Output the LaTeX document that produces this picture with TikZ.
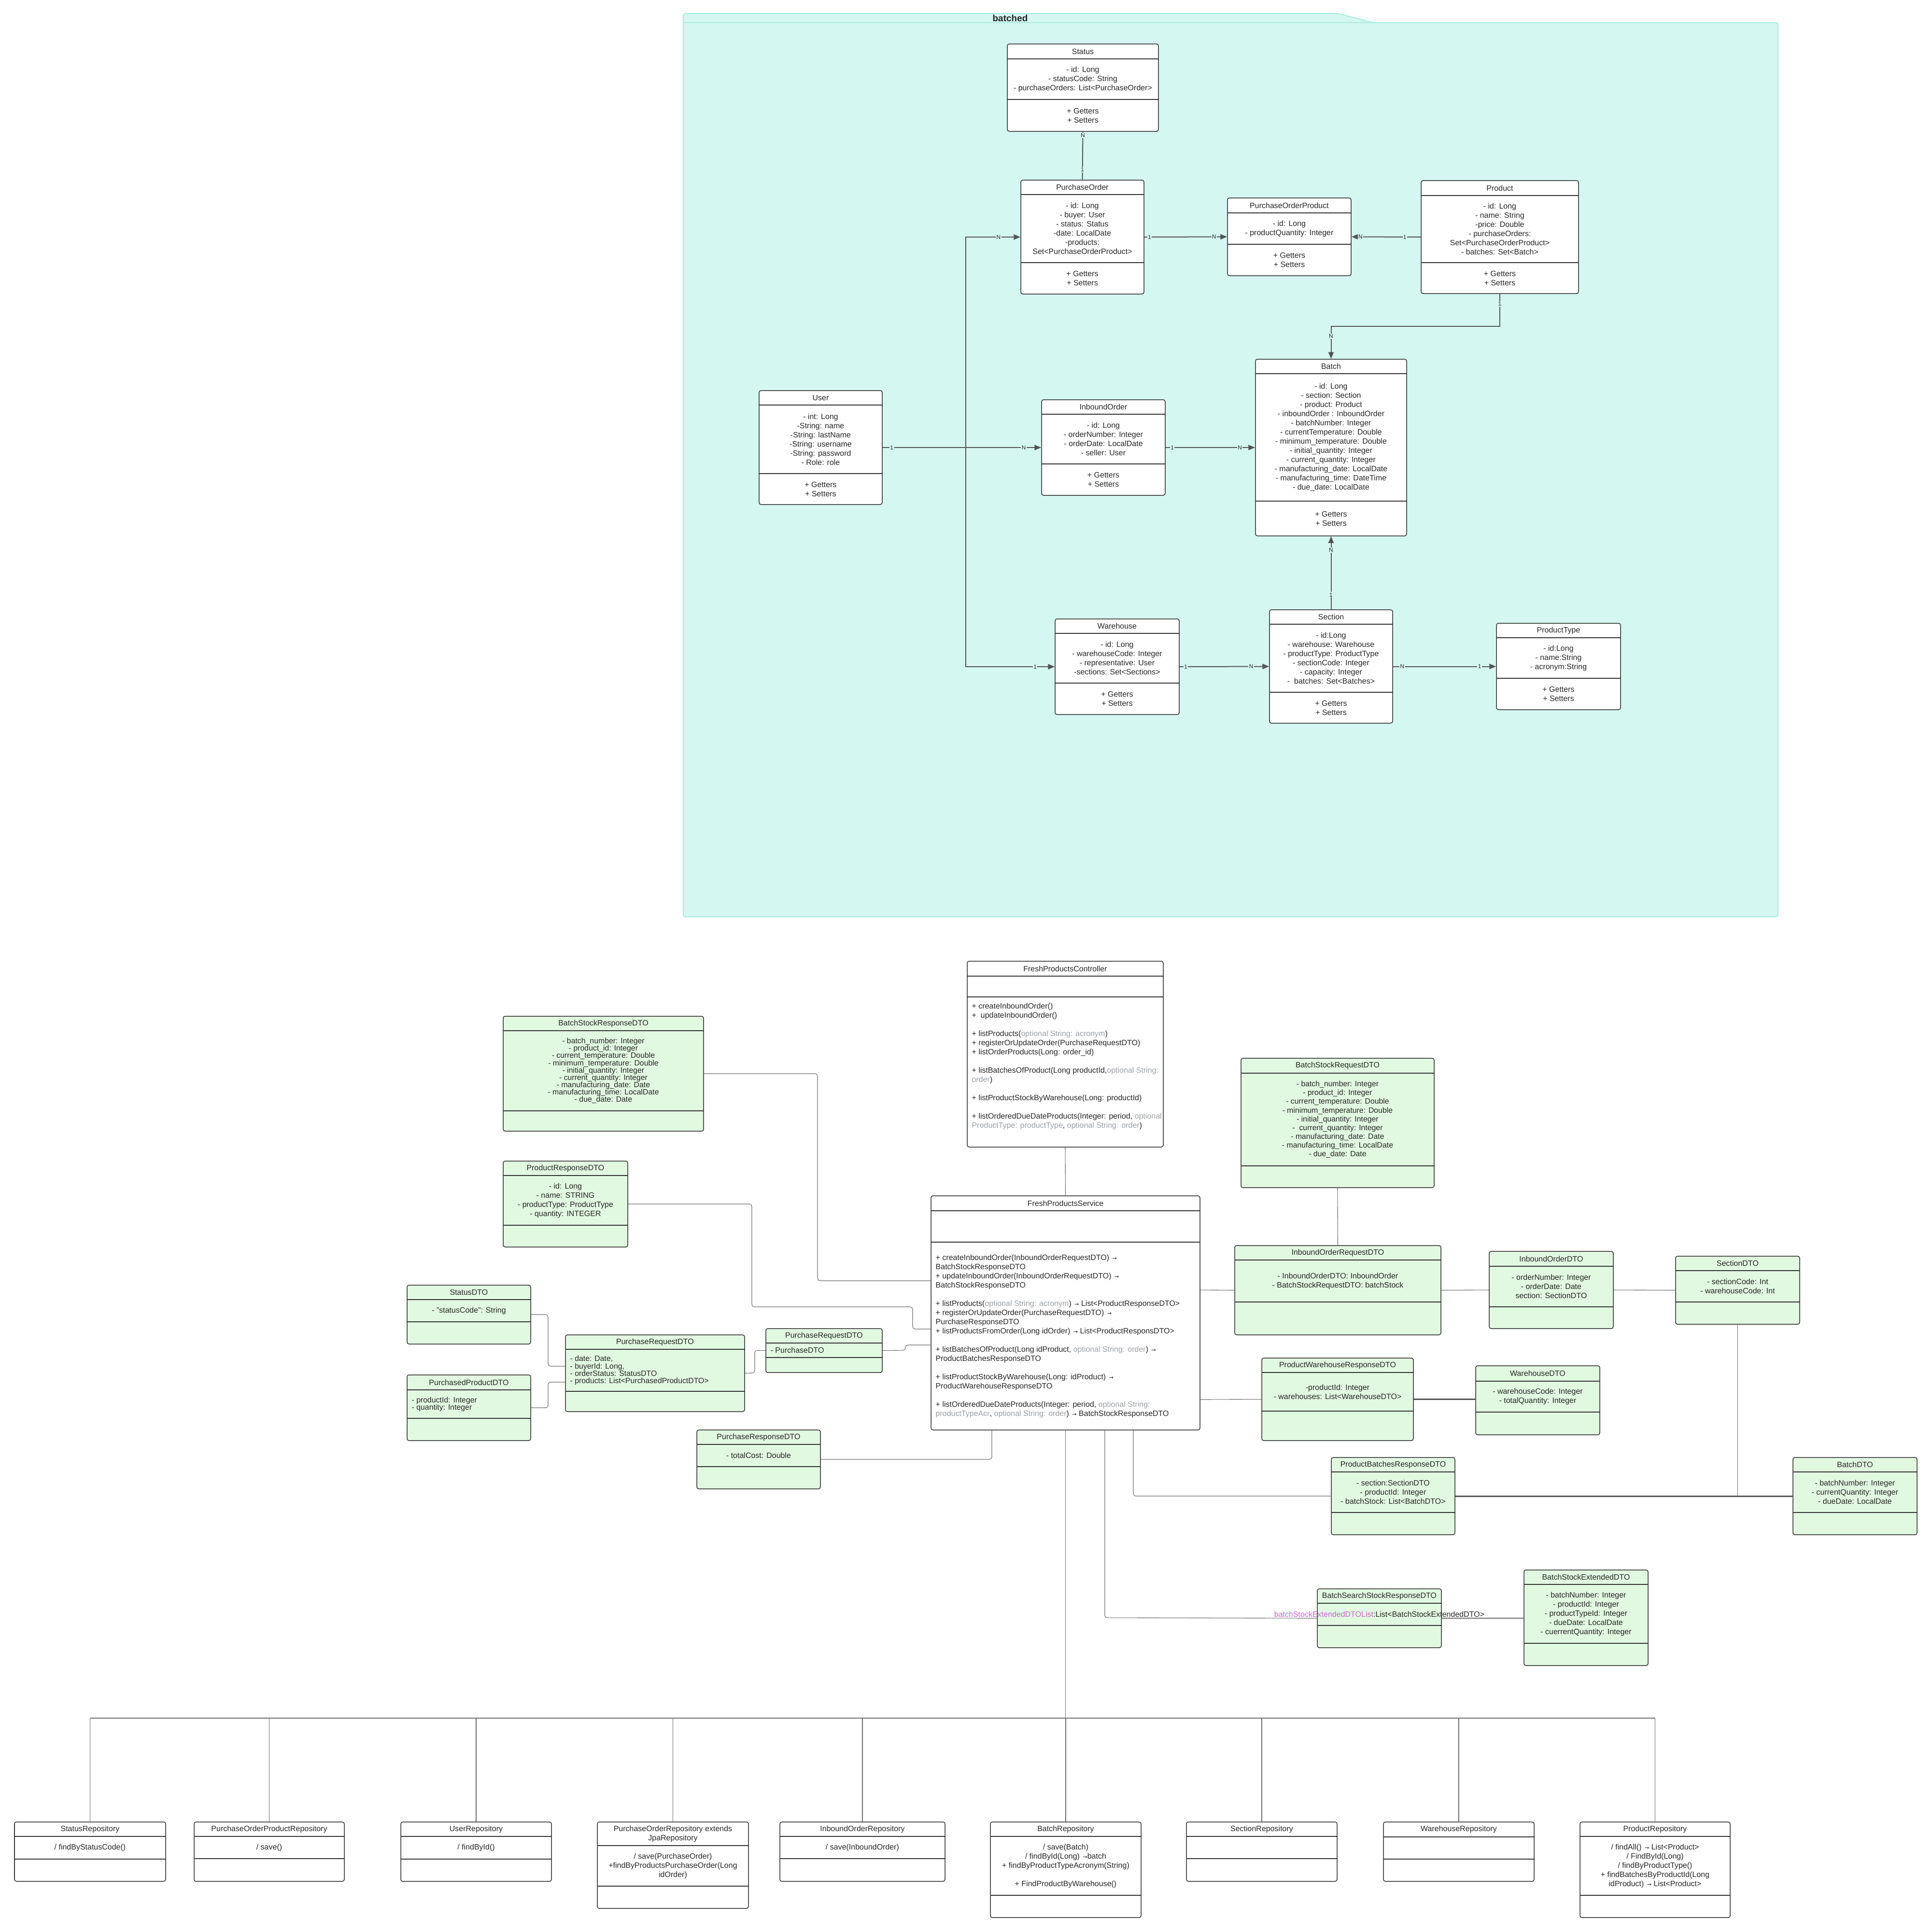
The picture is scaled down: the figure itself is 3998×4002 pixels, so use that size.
\documentclass[tikz,border=0pt]{standalone}
\usepackage{fontspec}
\setmainfont{Liberation Sans}
\newfontfamily\symfont{DejaVu Sans}
\usetikzlibrary{fit,arrows.meta}

\definecolor{pkgfill}{HTML}{D5F7F1}
\definecolor{pkgline}{HTML}{A9ECE0}
\definecolor{dtofill}{HTML}{E1F8E1}
\definecolor{boxline}{HTML}{333333}
\definecolor{wire}{HTML}{555555}
\definecolor{optgray}{HTML}{9AA0A6}
\definecolor{varpink}{HTML}{C768C7}

\newcommand\opt[1]{\textcolor{optgray}{#1}}
\newcommand\ret{{\symfont\fontsize{3.2}{3.2}\selectfont\,→}}
\newcommand\blankline{\\[5.4pt]}

% class box: style, name, left, top, right, bottom, first divider, second divider, title
\newcommand\umlclass[9]{%
  \def\boxN{#2}\def\boxL{#3}\def\boxT{#4}\def\boxR{#5}\def\boxB{#6}\def\boxDa{#7}\def\boxDb{#8}%
  \path (#3,#4) coordinate (#2-nw) (#5,#6) coordinate (#2-se);
  \node[#1, fit=(#2-nw)(#2-se)] (#2) {};
  \draw[divline] (#3,#7) -- (#5,#7) (#3,#8) -- (#5,#8);
  \node[titletext] (#2-title) at ({(#3+#5)/2},{(#4+#7)/2}) {#9};
}
\newcommand\members[2][]{\node[membertext,#1] (\boxN-attr) at ({(\boxL+\boxR)/2},{(\boxDa+\boxDb)/2}) {#2};}
\newcommand\operations[2][]{\node[membertext,#1] (\boxN-ops) at ({(\boxL+\boxR)/2},{(\boxDb+\boxB)/2}) {#2};}
\newcommand\lmembers[2][]{\node[membertext,align=left,anchor=west,#1] (\boxN-attr) at ({\boxL+9},{(\boxDa+\boxDb)/2}) {#2};}
\newcommand\loperations[2][]{\node[membertext,align=left,anchor=west,#1] (\boxN-ops) at ({\boxL+9},{(\boxDb+\boxB)/2}) {#2};}

\tikzset{
  umlbox/.style={draw=boxline, line width=0.015cm, rounded corners=0.04cm, fill=white, inner sep=0pt},
  dtobox/.style={umlbox, fill=dtofill},
  divline/.style={draw=boxline, line width=0.022cm},
  titletext/.style={font=\fontsize{4.55}{5.4}\selectfont, inner sep=0pt, align=center, text=black!85},
  membertext/.style={font=\fontsize{4.55}{5.4}\selectfont, inner sep=0pt, align=center, text=black!85},
  tight/.style={font=\fontsize{4.5}{4.32}\selectfont},
  medium/.style={font=\fontsize{4.5}{5.16}\selectfont},
  assoc/.style={draw=wire, line width=0.02cm, -{Triangle[length=0.14cm,width=0.11cm]}},
  assocplain/.style={draw=wire, line width=0.02cm},
  card/.style={font=\fontsize{3.4}{3.4}\selectfont, fill=pkgfill, inner sep=0.4pt, text=black!85},
  link/.style={draw=wire!85, line width=0.011cm, rounded corners=0.05cm},
  heavylink/.style={draw=wire, line width=0.03cm},
}

\begin{document}
\begin{tikzpicture}[x=0.01cm, y=-0.01cm]
\useasboundingbox (0,0) rectangle (3998,4002);
\fill[white] (0,0) rectangle (3998,4002);

% ---------------- package "batched" ----------------
\path[draw=pkgline, fill=pkgfill, line width=0.02cm, rounded corners=0.04cm]
  (1415,1899) -- (1415,28) -- (2771,28) -- (2845,47) -- (3682,47) -- (3682,1899) -- cycle;
\draw[pkgline, line width=0.015cm] (1415,47) -- (2845,47);
\node[font=\bfseries\fontsize{5.4}{6}\selectfont, text=black!85, inner sep=0pt] (pkglabel) at (2092,38) {batched};

% ---------------- domain classes ----------------
\umlclass{umlbox}{status}{2086}{91}{2399}{272}{122}{206}{Status}
\members{- id: Long\\- statusCode: String\\- purchaseOrders: List<PurchaseOrder>}
\operations{+ Getters\\+ Setters}

\umlclass{umlbox}{po}{2114}{373}{2369}{609}{403}{544}{PurchaseOrder}
\members{- id: Long\\- buyer: User\\- status: Status\\-date: LocalDate\\-products:\\Set<PurchaseOrderProduct>}
\operations{+ Getters\\+ Setters}

\umlclass{umlbox}{pop}{2542}{410}{2798}{571}{441}{506}{PurchaseOrderProduct}
\members{- id: Long\\- productQuantity: Integer}
\operations{+ Getters\\+ Setters}

\umlclass{umlbox}{product}{2943}{374}{3269}{608}{405}{544}{Product}
\members{- id: Long\\- name: String\\-price: Double\\- purchaseOrders:\\Set<PurchaseOrderProduct>\\- batches: Set<Batch>}
\operations{+ Getters\\+ Setters}

\umlclass{umlbox}{user}{1572}{809}{1827}{1045}{839}{981}{User}
\members{- int: Long\\-String: name\\-String: lastName\\-String: username\\-String: password\\- Role: role}
\operations{+ Getters\\+ Setters}

\umlclass{umlbox}{io}{2157}{828}{2413}{1026}{858}{961}{InboundOrder}
\members{- id: Long\\- orderNumber: Integer\\- orderDate: LocalDate\\- seller: User}
\operations{+ Getters\\+ Setters}

\umlclass{umlbox}{batch}{2600}{744}{2913}{1110}{774}{1038}{Batch}
\members{- id: Long\\- section: Section\\- product: Product\\- inboundOrder : InboundOrder\\- batchNumber: Integer\\- currentTemperature: Double\\- minimum\_temperature: Double\\- initial\_quantity: Integer\\- current\_quantity: Integer\\- manufacturing\_date: LocalDate\\- manufacturing\_time: DateTime\\- due\_date: LocalDate}
\operations{+ Getters\\+ Setters}

\umlclass{umlbox}{wh}{2185}{1282}{2442}{1480}{1312}{1415}{Warehouse}
\members{- id: Long\\- warehouseCode: Integer\\- representative: User\\-sections: Set<Sections>}
\operations{+ Getters\\+ Setters}

\umlclass{umlbox}{section}{2629}{1263}{2884}{1498}{1293}{1434}{Section}
\members{- id:Long\\- warehouse: Warehouse\\- productType: ProductType\\- sectionCode: Integer\\- capacity: Integer\\-~ batches: Set<Batches>}
\operations{+ Getters\\+ Setters}

\umlclass{umlbox}{ptype}{3099}{1291}{3356}{1470}{1321}{1405}{ProductType}
\members{- id:Long\\- name:String\\- acronym:String}
\operations{+ Getters\\+ Setters}

% associations
\draw[assocplain] (status.south) -- node[card,pos=0.08] (st-n) {N} node[card,pos=0.79] (st-1) {1} (po.north);
\draw[assoc] (po.east) -- node[card,pos=0.064] (pp-1) {1} node[card,pos=0.844] (pp-n) {N} (pop.west);
\draw[assoc] (product.west) -- node[card,pos=0.23] (rp-1) {1} node[card,pos=0.87] (rp-n) {N} (pop.east);
\coordinate (userhub) at (2000,927);
\draw[assoc] (user.east) -- node[card,pos=0.058] (ui-1) {1} node[card,pos=0.89] (ui-n) {N} (io.west);
\draw[assoc] (userhub) |- node[card,pos=0.8] (up-n) {N} (po.west);
\draw[assoc] (userhub) |- node[card,pos=0.89] (uw-1) {1} (wh.west);
\draw[assoc] (io.east) -- node[card,pos=0.075] (ib-1) {1} node[card,pos=0.83] (ib-n) {N} (batch.west);
\draw[assoc] (product.south) -- node[card,pos=0.31] (rb-1) {1} (product.south |- 0,676) -| node[card,pos=0.65] (rb-n) {N} (batch.north);
\draw[assoc] (section.north) -- node[card,pos=0.2] (sb-1) {1} node[card,pos=0.81] (sb-n) {N} (batch.south);
\draw[assoc] (wh.east) -- node[card,pos=0.07] (ws-1) {1} node[card,pos=0.8] (ws-n) {N} (section.west);
\draw[assoc] (section.east) -- node[card,pos=0.09] (st2-n) {N} node[card,pos=0.84] (st2-1) {1} (ptype.west);

% ---------------- controller and service ----------------
\umlclass{umlbox}{ctrl}{2003}{1991}{2409}{2376}{2022}{2065}{FreshProductsController}
\loperations[yshift=0.12cm]{+ createInboundOrder()\\+~ updateInboundOrder()\blankline
+ listProducts(\opt{optional String: acronym})\\+ registerOrUpdateOrder(PurchaseRequestDTO)\\+ listOrderProducts(Long: order\_id)\blankline
+ listBatchesOfProduct(Long productId,\opt{optional String:}\\\opt{order})\blankline
+ listProductStockByWarehouse(Long: productId)\blankline
+ listOrderedDueDateProducts(Integer: period, \opt{optional}\\\opt{ProductType: productType}, \opt{optional String: order})}

\umlclass{umlbox}{service}{1928}{2477}{2485}{2962}{2508}{2573}{FreshProductsService}
\loperations{+ createInboundOrder(InboundOrderRequestDTO) \ret\\BatchStockResponseDTO\\+ updateInboundOrder(InboundOrderRequestDTO) \ret\\BatchStockResponseDTO\blankline
+ listProducts(\opt{optional String: acronym}) \ret{} List<ProductResponseDTO>\\+ registerOrUpdateOrder(PurchaseRequestDTO) \ret\\PurchaseResponseDTO\\+ listProductsFromOrder(Long idOrder) \ret{} List<ProductResponsDTO>\blankline
+ listBatchesOfProduct(Long idProduct, \opt{optional String: order}) \ret\\ProductBatchesResponseDTO\blankline
+ listProductStockByWarehouse(Long: idProduct) \ret\\ProductWarehouseResponseDTO\blankline
+ listOrderedDueDateProducts(Integer: period, \opt{optional String:}\\\opt{productTypeAcr}, \opt{optional String: order}) \ret{} BatchStockResponseDTO}

% ---------------- DTOs ----------------
\umlclass{dtobox}{bsr}{1042}{2105}{1457}{2343}{2135}{2301}{BatchStockResponseDTO}
\members[tight]{- batch\_number: Integer\\- product\_id: Integer\\- current\_temperature: Double\\- minimum\_temperature: Double\\- initial\_quantity: Integer\\- current\_quantity: Integer\\- manufacturing\_date: Date\\- manufacturing\_time: LocalDate\\- due\_date: Date}

\umlclass{dtobox}{prd}{1042}{2405}{1300}{2583}{2435}{2538}{ProductResponseDTO}
\members{- id: Long\\- name: STRING\\- productType: ProductType\\- quantity: INTEGER}

\umlclass{dtobox}{sdto}{843}{2662}{1099}{2784}{2692}{2738}{StatusDTO}
\members{- "statusCode": String}

\umlclass{dtobox}{ppd}{843}{2848}{1099}{2984}{2879}{2938}{PurchasedProductDTO}
\lmembers[tight]{- productId: Integer\\- quantity: Integer}

\umlclass{dtobox}{preq}{1171}{2765}{1542}{2924}{2795}{2882}{PurchaseRequestDTO}
\lmembers[tight]{- date: Date,\\- buyerId: Long,\\- orderStatus: StatusDTO\\- products: List<PurchasedProductDTO>}

\umlclass{dtobox}{preqs}{1586}{2752}{1827}{2843}{2782}{2812}{PurchaseRequestDTO}
\lmembers{- PurchaseDTO}

\umlclass{dtobox}{pres}{1443}{2962}{1699}{3084}{2992}{3038}{PurchaseResponseDTO}
\members{- totalCost: Double}

\umlclass{dtobox}{bsreq}{2570}{2192}{2970}{2460}{2223}{2415}{BatchStockRequestDTO}
\members[medium]{- batch\_number: Integer\\- product\_id: Integer\\- current\_temperature: Double\\- minimum\_temperature: Double\\- initial\_quantity: Integer\\-~ current\_quantity: Integer\\- manufacturing\_date: Date\\- manufacturing\_time: LocalDate\\- due\_date: Date}

\umlclass{dtobox}{iorq}{2557}{2580}{2984}{2765}{2610}{2697}{InboundOrderRequestDTO}
\members{- InboundOrderDTO: InboundOrder\\- BatchStockRequestDTO: batchStock}

\umlclass{dtobox}{iodto}{3084}{2592}{3341}{2752}{2623}{2707}{InboundOrderDTO}
\members{- orderNumber: Integer\\- orderDate: Date\\section: SectionDTO}

\umlclass{dtobox}{secdto}{3470}{2602}{3727}{2743}{2632}{2697}{SectionDTO}
\members{- sectionCode: Int\\- warehouseCode: Int}

\umlclass{dtobox}{pwr}{2613}{2813}{2927}{2984}{2843}{2923}{ProductWarehouseResponseDTO}
\members{-productId: Integer\\- warehouses: List<WarehouseDTO>}

\umlclass{dtobox}{whdto}{3056}{2829}{3313}{2972}{2861}{2925}{WarehouseDTO}
\members{- warehouseCode: Integer\\- totalQuantity: Integer}

\umlclass{dtobox}{pbr}{2757}{3019}{3013}{3179}{3049}{3133}{ProductBatchesResponseDTO}
\members{- section:SectionDTO\\- productId: Integer\\- batchStock: List<BatchDTO>}

\umlclass{dtobox}{batchdto}{3713}{3019}{3970}{3179}{3049}{3133}{BatchDTO}
\members{- batchNumber: Integer\\- currentQuantity: Integer\\- dueDate: LocalDate}

\umlclass{dtobox}{bssr}{2728}{3291}{2985}{3413}{3321}{3367}{BatchSearchStockResponseDTO}
\members{\textcolor{varpink}{batchStockExtendedDTOList}:List<BatchStockExtendedDTO>}

\umlclass{dtobox}{bse}{3156}{3252}{3413}{3450}{3282}{3404}{BatchStockExtendedDTO}
\members{- batchNumber: Integer\\- productId: Integer\\- productTypeId: Integer\\- dueDate: LocalDate\\- cuerrentQuantity: Integer}

% ---------------- repositories ----------------
\umlclass{umlbox}{statusrepo}{30}{3774}{343}{3897}{3804}{3851}{StatusRepository}
\members{/ findByStatusCode()}
\umlclass{umlbox}{poprepo}{402}{3774}{713}{3897}{3804}{3850}{PurchaseOrderProductRepository}
\members{/ save()}
\umlclass{umlbox}{userrepo}{830}{3774}{1142}{3897}{3804}{3851}{UserRepository}
\members{/ findById()}
\umlclass{umlbox}{porepo}{1237}{3774}{1550}{3953}{3823}{3907}{PurchaseOrderRepository extends\\JpaRepository}
\members{/ save(PurchaseOrder)\\+findByProductsPurchaseOrder(Long\\idOrder)}
\umlclass{umlbox}{iorepo}{1615}{3774}{1957}{3897}{3804}{3850}{InboundOrderRepository}
\members{/ save(InboundOrder)}
\umlclass{umlbox}{batchrepo}{2051}{3774}{2363}{3972}{3804}{3926}{BatchRepository}
\members{/ save(Batch)\\/ findById(Long) \ret batch\\+ findByProductTypeAcronym(String)\blankline+ FindProductByWarehouse()}
\umlclass{umlbox}{secrepo}{2457}{3774}{2769}{3897}{3804}{3850}{SectionRepository}
\umlclass{umlbox}{whrepo}{2865}{3774}{3177}{3897}{3805}{3851}{WarehouseRepository}
\umlclass{umlbox}{prodrepo}{3272}{3774}{3583}{3972}{3804}{3926}{ProductRepository}
\members{/ findAll() \ret{} List<Product>\\/ FindById(Long)\\/ findByProductType()\\+ findBatchesByProductId(Long\\idProduct) \ret{} List<Product>}

% ---------------- dependencies ----------------
\draw[link] (ctrl.south) -- (service.north);
\draw[link] (bsr.east) -- (1693,2224) -- (1693,2653) -- (service.west |- 0,2653);
\draw[link] (prd.east) -- (1557,2494) -- (1557,2707) -- (1890,2707) -- (1890,2753) -- (service.west |- 0,2753);
\draw[link] (preq.east) -- (1563,2844) -- (1563,2797) -- (preqs.west);
\draw[link] (preqs.east) -- (1875,2797) -- (1875,2786) -- (service.west |- 0,2786);
\draw[link] (sdto.east) -- (1135,2723) -- (1135,2830) -- (preq.west |- 0,2830);
\draw[link] (ppd.east) -- (1135,2916) -- (1135,2863) -- (preq.west |- 0,2863);
\draw[link] (pres.east) -- (2054,3023) -- (2054,0 |- service.south);
\draw[link] (service.east |- 0,2672) -- (iorq.west);
\draw[link] (bsreq.south) -- (iorq.north);
\draw[link] (iorq.east) -- (iodto.west);
\draw[link] (iodto.east) -- (secdto.west);
\draw[link] (service.east |- 0,2899) -- (pwr.west);
\draw[heavylink] (pwr.east) -- (pwr.east -| whdto.west);
\draw[link] (2347,0 |- service.south) -- (2347,3099) -- (pbr.west);
\draw[heavylink] (pbr.east) -- (batchdto.west);
\draw[link] (secdto.south) -- (secdto.south |- batchdto.west);
\draw[link] (2288,0 |- service.south) -- (2288,3351) -- (bssr.west);
\draw[link] (bssr.east) -- (bssr.east -| bse.west);

% repository bus
\coordinate (bus) at (2207,3559);
\draw[link] (service.south) -- (service.south |- bus);
\draw[link] (statusrepo.north |- bus) -- (prodrepo.north |- bus);
\foreach \r in {statusrepo,poprepo,userrepo,porepo,iorepo,batchrepo,secrepo,whrepo,prodrepo}
  \draw[link] (\r.north) -- (\r.north |- bus);
\end{tikzpicture}
\end{document}
